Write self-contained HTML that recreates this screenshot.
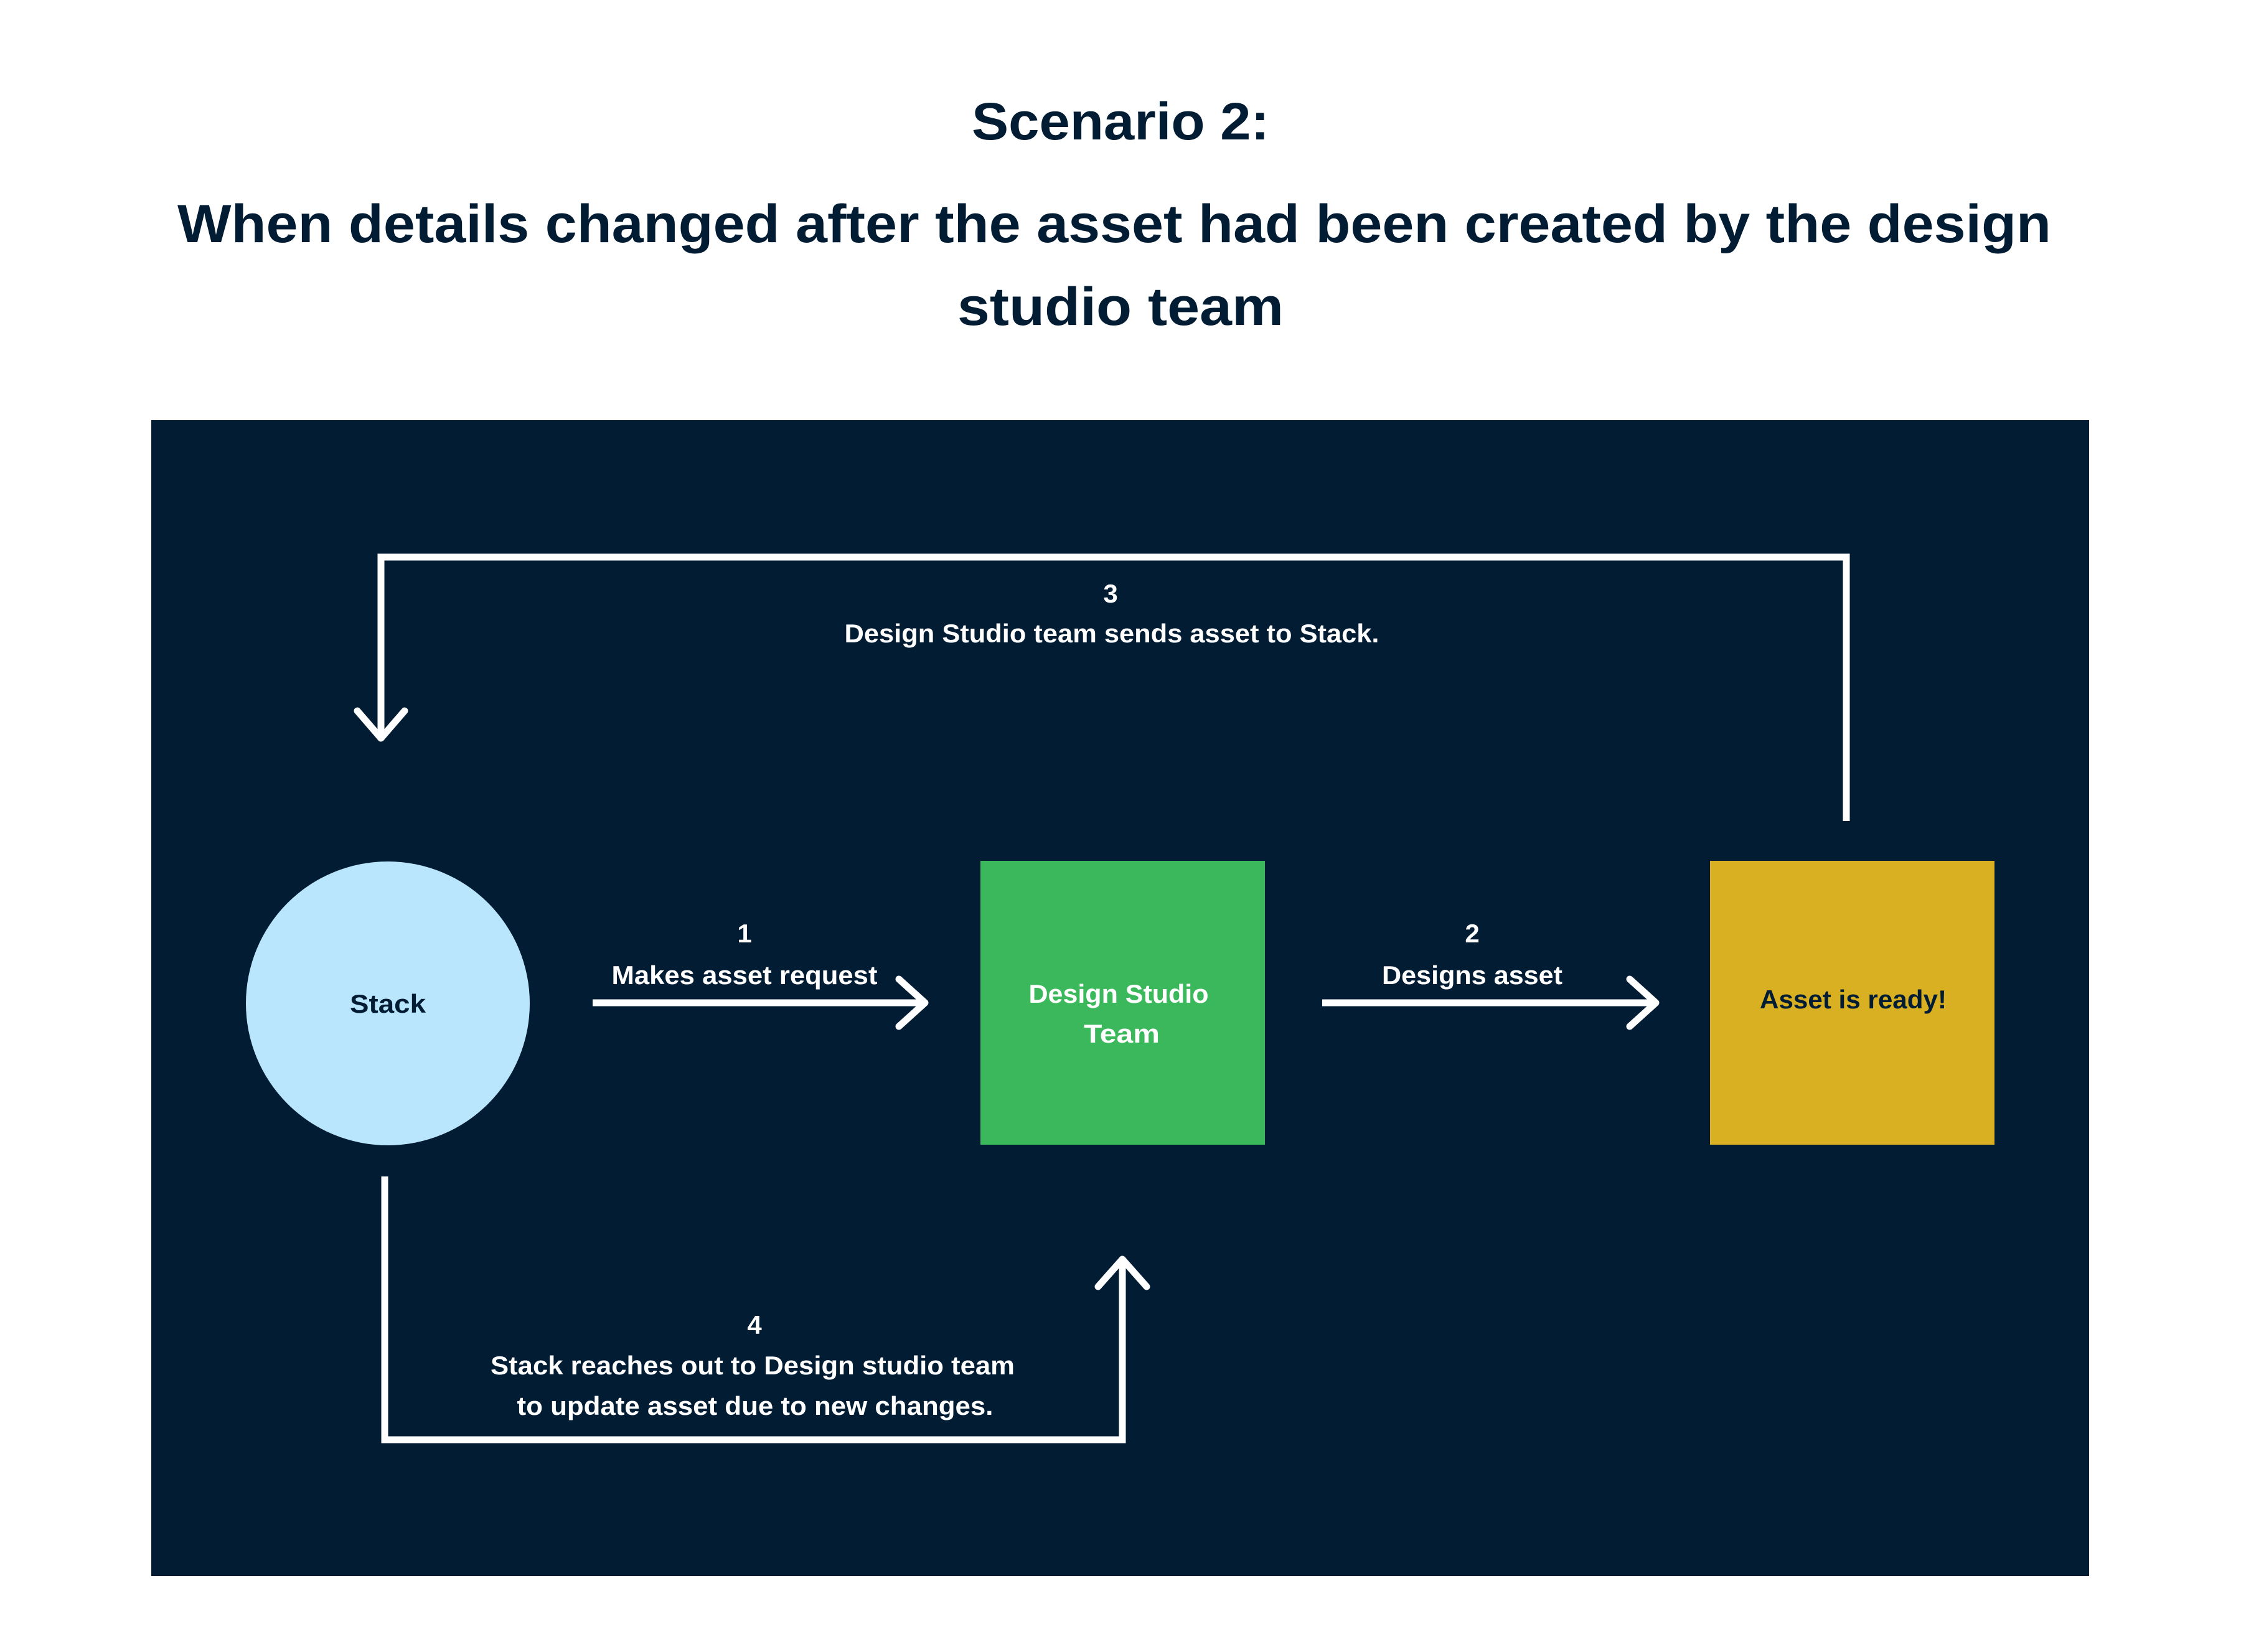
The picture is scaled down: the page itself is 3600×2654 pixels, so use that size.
<!DOCTYPE html>
<html><head><meta charset="utf-8"><style>
html,body{margin:0;padding:0;background:#fff;}
svg{display:block;}
text{font-family:"Liberation Sans","DejaVu Sans",sans-serif;font-weight:bold;}
</style></head><body>
<svg width="3600" height="2654" viewBox="0 0 3600 2654" xmlns="http://www.w3.org/2000/svg">
<rect width="3600" height="2654" fill="#fff"/>
<g fill="#021c33" text-anchor="middle">
<text x="1800" y="224" font-size="84" textLength="478" lengthAdjust="spacingAndGlyphs">Scenario 2:</text>
<text x="1790" y="389" font-size="86" textLength="3010" lengthAdjust="spacingAndGlyphs">When details changed after the asset had been created by the design</text>
<text x="1800" y="522" font-size="86" textLength="524" lengthAdjust="spacingAndGlyphs">studio team</text>
</g>
<rect x="243" y="675" width="3113" height="1857" fill="#021c33"/>
<circle cx="623" cy="1612" r="228" fill="#bae6fd"/>
<rect x="1575" y="1383" width="457" height="456" fill="#3cb85c"/>
<rect x="2747" y="1383" width="457" height="456" fill="#d9b022"/>
<g stroke="#fff" stroke-width="11" fill="none" stroke-linecap="butt">
<polyline points="612,1186 612,895 2966,895 2966,1319"/>
<polyline points="618,1890 618,2313 1803,2313 1803,2025"/>
<line x1="952" y1="1611" x2="1484" y2="1611"/>
<line x1="2124" y1="1611" x2="2658" y2="1611"/>
</g>
<g stroke="#fff" stroke-width="11" fill="none" stroke-linecap="round" stroke-linejoin="round">
<polyline points="574,1142 612,1186 650,1142"/>
<polyline points="1444,1573 1486,1611 1444,1649"/>
<polyline points="2618,1573 2660,1611 2618,1649"/>
<polyline points="1764,2067 1803,2023 1842,2067"/>
</g>
<g fill="#fff" text-anchor="middle" font-size="42">
<text x="1784" y="968">3</text>
<text x="1786" y="1032" textLength="859" lengthAdjust="spacingAndGlyphs">Design Studio team sends asset to Stack.</text>
<text x="1196" y="1514">1</text>
<text x="1196" y="1581" textLength="427" lengthAdjust="spacingAndGlyphs">Makes asset request</text>
<text x="2365" y="1514">2</text>
<text x="2365" y="1581" textLength="290" lengthAdjust="spacingAndGlyphs">Designs asset</text>
<text x="1797" y="1611" textLength="289" lengthAdjust="spacingAndGlyphs">Design Studio</text>
<text x="1802" y="1675" textLength="122" lengthAdjust="spacingAndGlyphs">Team</text>
<text x="1212" y="2143">4</text>
<text x="1209" y="2208" textLength="842" lengthAdjust="spacingAndGlyphs">Stack reaches out to Design studio team</text>
<text x="1213" y="2273" textLength="765" lengthAdjust="spacingAndGlyphs">to update asset due to new changes.</text>
</g>
<g fill="#021c33" text-anchor="middle" font-size="42">
<text x="623" y="1627" textLength="122" lengthAdjust="spacingAndGlyphs">Stack</text>
<text x="2977" y="1620" textLength="300" lengthAdjust="spacingAndGlyphs">Asset is ready!</text>
</g>
</svg>
</body></html>
